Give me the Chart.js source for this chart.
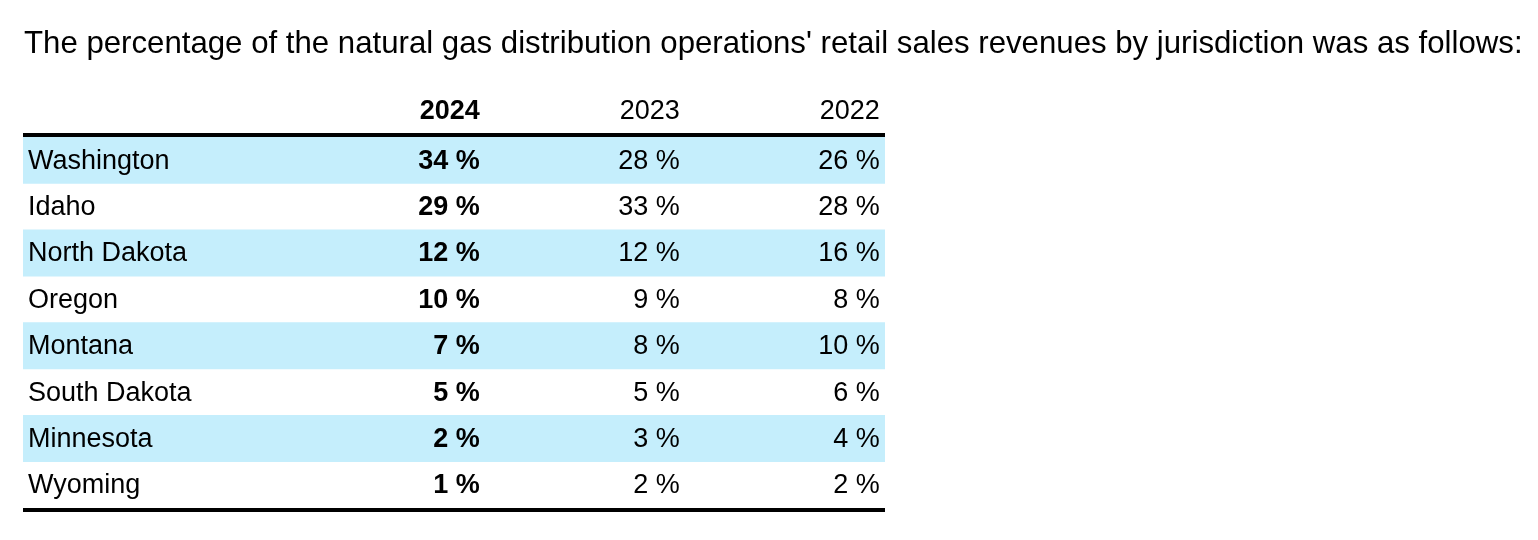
<!DOCTYPE html>
<html>
<head>
<meta charset="utf-8">
<script src="https://cdn.jsdelivr.net/npm/chart.js@4/dist/chart.umd.min.js"></script>
<style>
  html, body { margin: 0; padding: 0; background: #fff; }
  canvas { display: block; }
</style>
</head>
<body>
<canvas id="tbl" width="1538" height="540"></canvas>
<script>
const TITLE =
  "The percentage of the natural gas distribution operations' retail sales revenues by jurisdiction was as follows:";
const jurisdictions = [
  "Washington",
  "Idaho",
  "North Dakota",
  "Oregon",
  "Montana",
  "South Dakota",
  "Minnesota",
  "Wyoming",
];
const years = ["2024", "2023", "2022"];
const share2024 = [34, 29, 12, 10, 7, 5, 2, 1];
const share2023 = [28, 33, 12, 9, 8, 5, 3, 2];
const share2022 = [26, 28, 16, 8, 10, 6, 4, 2];

const FONT = "'Liberation Sans', Arial, sans-serif";
// right edge of each value column, as a fraction of the table width
const colRight = [0.53, 0.762, 0.994];

const tablePlugin = {
  id: "tableText",
  afterDatasetsDraw(chart) {
    const { ctx, chartArea } = chart;
    const x = chart.scales.x;
    const y = chart.scales.y;
    const cols = [share2024, share2023, share2022];
    ctx.save();
    ctx.fillStyle = "#000";
    ctx.textBaseline = "middle";

    // title
    ctx.font = `31.2px ${FONT}`;
    ctx.textAlign = "left";
    ctx.fillText(TITLE, 24, 44);

    // header
    years.forEach((yr, c) => {
      ctx.font = `${c === 0 ? "bold " : ""}27px ${FONT}`;
      ctx.textAlign = "right";
      ctx.fillText(yr, x.getPixelForValue(colRight[c]), chartArea.top - 25);
    });

    // rows
    jurisdictions.forEach((name, i) => {
      const py = y.getPixelForValue(i) + 1;
      ctx.font = `27px ${FONT}`;
      ctx.textAlign = "left";
      ctx.fillText(name, x.getPixelForValue(0) + 5, py);
      cols.forEach((vals, c) => {
        ctx.font = `${c === 0 ? "bold " : ""}27px ${FONT}`;
        ctx.textAlign = "right";
        ctx.fillText(vals[i] + " %", x.getPixelForValue(colRight[c]), py);
      });
    });

    // rules
    ctx.strokeStyle = "#000";
    ctx.lineWidth = 4;
    const l = x.getPixelForValue(0);
    const r = x.getPixelForValue(1);
    ctx.beginPath();
    ctx.moveTo(l, chartArea.top - 2);
    ctx.lineTo(r, chartArea.top - 2);
    ctx.moveTo(l, chartArea.bottom + 2);
    ctx.lineTo(r, chartArea.bottom + 2);
    ctx.stroke();
    ctx.restore();
  },
};

new Chart(document.getElementById("tbl"), {
  type: "bar",
  data: {
    labels: jurisdictions,
    datasets: [
      {
        data: jurisdictions.map((_, i) => (i % 2 === 0 ? [0, 1] : null)),
        backgroundColor: "#c5eefc",
        borderWidth: 0,
        categoryPercentage: 1,
        barPercentage: 1,
      },
    ],
  },
  options: {
    indexAxis: "y",
    responsive: false,
    animation: false,
    layout: { padding: { left: 23, right: 653, top: 137, bottom: 32 } },
    plugins: {
      legend: { display: false },
      tooltip: { enabled: false },
      title: { display: false },
    },
    scales: {
      x: { type: "linear", min: 0, max: 1, display: false },
      y: { type: "category", display: false },
    },
  },
  plugins: [tablePlugin],
});
</script>
</body>
</html>
